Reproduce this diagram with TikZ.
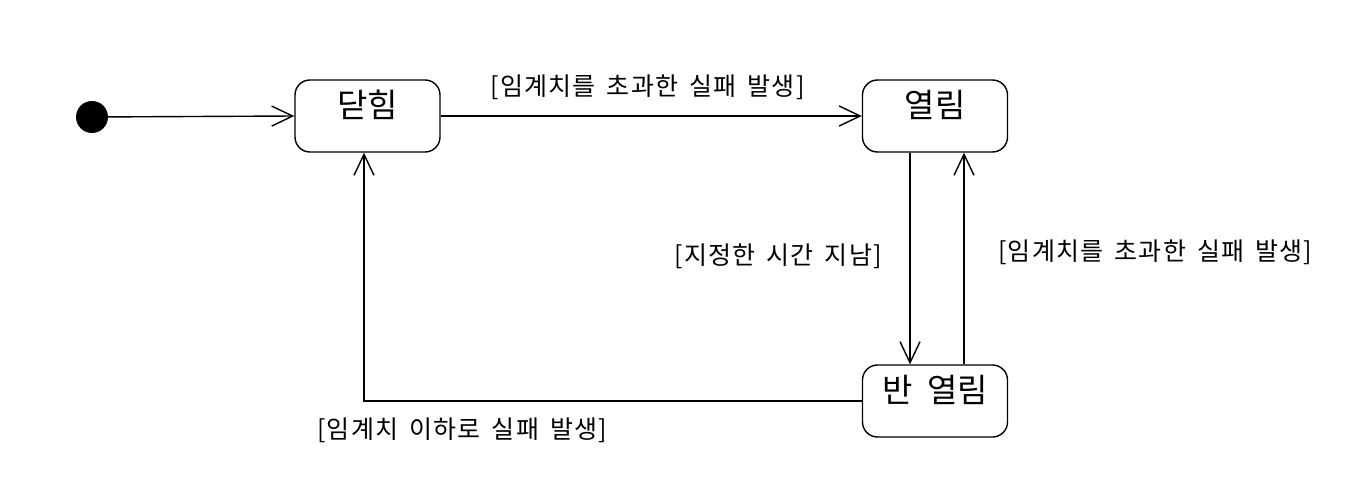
\documentclass[tikz,border=0pt]{standalone}
\usepackage{fontspec}
\setmainfont{Noto Sans CJK KR}
\newfontfamily\lblfont[LetterSpace=5,WordSpace=1.6]{Noto Sans CJK KR}
\newfontfamily\statefont[WordSpace=2]{Noto Sans CJK KR}
\usetikzlibrary{arrows.meta}
\begin{document}
\begin{tikzpicture}[x=1pt,y=-1pt,
  state/.style={draw,rounded corners=15pt,line width=1.4pt,minimum width=145pt,minimum height=72pt,
    inner sep=0pt,font=\statefont\fontsize{33}{36}\selectfont,text height=16pt,text depth=13pt},
  lbl/.style={inner sep=0pt,font=\lblfont\fontsize{25}{28}\selectfont},
  conn/.style={line width=1.4pt,-{Straight Barb[length=21pt,width=20pt,line width=1.4pt]}}]
\useasboundingbox (0,0) rectangle (1362,484);
\fill[white] (0,0) rectangle (1362,484);
\node[circle,fill=black,inner sep=0pt,minimum size=32pt] (init) at (92,117) {};
\node[state] (closed) at (367.5,116) {닫힘};
\node[state] (open) at (935,116) {열림};
\node[state] (half) at (935,401) {반 열림};
\draw[conn] (init) -- (closed.west);
\draw[conn] (closed.east) -- (open.west);
\draw[conn] ([xshift=-25pt]open.south) -- ([xshift=-25pt]half.north);
\draw[conn] ([xshift=29pt]half.north) -- ([xshift=29pt]open.south);
\draw[conn] (half.west) -| ([xshift=-3.5pt]closed.south);
\node[lbl] (l1) at (647.5,87) {[임계치를 초과한 실패 발생]};
\node[lbl,anchor=east] (l2) at (882,256) {[지정한 시간 지남]};
\node[lbl,anchor=west] (l3) at (998,252) {[임계치를 초과한 실패 발생]};
\node[lbl,anchor=west] (l4) at (317,430) {[임계치 이하로 실패 발생]};
\end{tikzpicture}
\end{document}
